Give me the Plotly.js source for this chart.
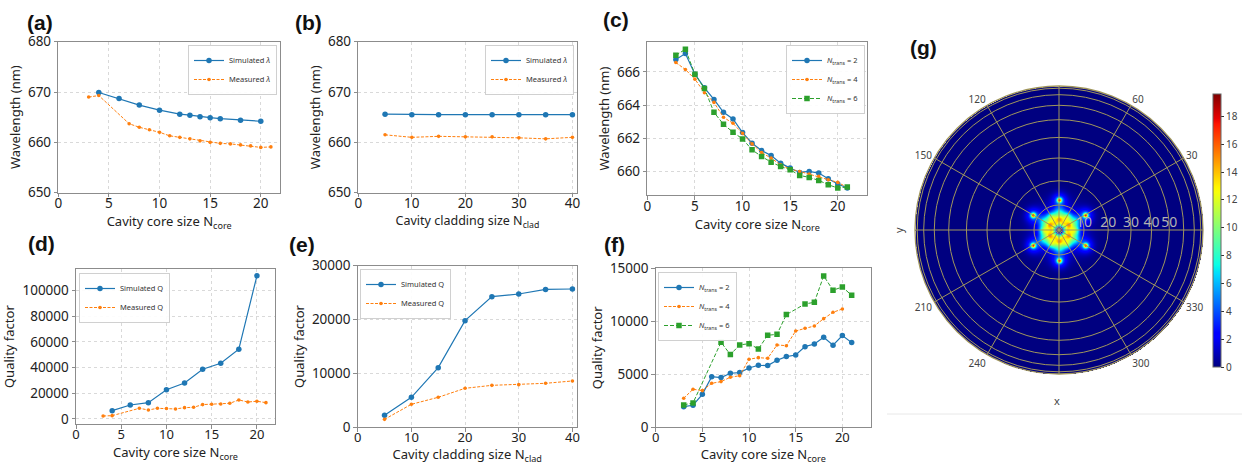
<!DOCTYPE html>
<html>
<head>
<meta charset="utf-8">
<script src="https://cdn.plot.ly/plotly-3.0.1.min.js"></script>
<style>
  html, body { margin: 0; padding: 0; background: #fff; }
  #fig { width: 1242px; height: 465px; }
</style>
</head>
<body>
<div id="fig"></div>
<script>
// ---------- (a) resonance wavelength vs. core size ----------
const coreSimX  = [4, 6, 8, 10, 12, 13, 14, 15, 16, 18, 20];
const coreSimWl = [669.9, 668.7, 667.4, 666.4, 665.6, 665.4, 665.1, 664.9, 664.7, 664.4, 664.2];
const coreMeasX  = [3, 4, 7, 8, 9, 10, 11, 12, 13, 14, 15, 16, 17, 18, 19, 20, 21];
const coreMeasWl = [669.0, 669.3, 663.7, 663.0, 662.5, 662.0, 661.3, 661.0, 660.7, 660.3, 660.0, 659.8, 659.7, 659.5, 659.3, 659.0, 659.1];

// ---------- (b) resonance wavelength vs. cladding size ----------
const cladX      = [5, 10, 15, 20, 25, 30, 35, 40];
const cladSimWl  = [665.6, 665.5, 665.5, 665.5, 665.5, 665.5, 665.5, 665.5];
const cladMeasWl = [661.5, 661.0, 661.2, 661.1, 661.1, 660.9, 660.7, 661.0];

// ---------- (c) wavelength vs. core size for three transition lengths ----------
const transX   = [3, 4, 5, 6, 7, 8, 9, 10, 11, 12, 13, 14, 15, 16, 17, 18, 19, 20, 21];
const transWl2 = [666.74, 667.10, 665.86, 665.04, 664.34, 663.56, 663.16, 662.34, 661.70, 661.26, 660.96, 660.50, 660.20, 659.94, 660.00, 659.90, 659.56, 659.24, 659.00];
const transWl4 = [666.56, 666.14, 665.56, 664.74, 664.16, 663.26, 662.90, 662.30, 661.66, 661.14, 660.80, 660.40, 660.14, 660.00, 659.84, 659.70, 659.50, 659.34, 659.04];
const transWl6 = [667.00, 667.36, 665.86, 665.00, 663.56, 662.84, 662.36, 661.96, 661.30, 660.90, 660.56, 660.30, 660.10, 659.76, 659.64, 659.46, 659.20, 659.00, 659.06];

// ---------- (d) quality factor vs. core size ----------
const qCoreSimX = [4, 6, 8, 10, 12, 14, 16, 18, 20];
const qCoreSim  = [6500, 10900, 12700, 22800, 28000, 38700, 43300, 54300, 111300];
const qCoreMeasX = [3, 4, 7, 8, 9, 10, 11, 12, 13, 14, 15, 16, 17, 18, 19, 20, 21];
const qCoreMeas  = [2300, 2600, 8300, 7000, 8300, 8100, 7800, 8800, 9100, 11200, 11400, 11700, 12200, 14800, 13200, 13800, 12700];

// ---------- (e) quality factor vs. cladding size ----------
const qCladSim  = [2230, 5570, 11070, 19800, 24250, 24740, 25600, 25670];
const qCladMeas = [1480, 4270, 5570, 7240, 7790, 7920, 8170, 8600];

// ---------- (f) quality factor vs. core size for three transition lengths ----------
const qTrans2X = [3, 4, 5, 6, 7, 8, 9, 10, 11, 12, 13, 14, 15, 16, 17, 18, 19, 20, 21];
const qTrans2  = [1950, 2080, 3110, 4780, 4690, 5100, 5160, 5600, 5850, 5820, 6320, 6670, 6820, 7610, 7860, 8490, 7740, 8650, 7990];
const qTrans4X = [3, 4, 5, 6, 7, 8, 9, 10, 11, 12, 13, 14, 15, 16, 17, 18, 19, 20];
const qTrans4  = [2740, 3590, 3460, 4150, 4310, 4720, 4870, 6420, 6570, 6510, 7770, 7700, 9090, 9340, 9560, 10250, 10850, 11160];
const qTrans6X = [3, 4, 7, 8, 9, 10, 11, 12, 13, 14, 16, 17, 18, 19, 20, 21];
const qTrans6  = [2110, 2300, 8020, 6860, 7770, 7890, 7390, 8680, 8770, 10630, 11640, 11790, 14280, 12930, 13240, 12450];

// ---------- (g) far-field intensity: six-fold spot groups ----------
// radius in units of sin(polar angle); each group is a set of six spots rotated by the offset
const spotGroupRadius = [0.0, 0.0, 0.050, 0.075, 0.100, 0.120, 0.210, 0.210];
const spotGroupOffset = [0, 0, 0, 30, 0, 30, 30, 30];
const spotGroupPeak   = [6.0, -8.0, 6.0, 7.0, 8.0, 5.0, 13.0, 4.0];
const spotGroupWidth  = [0.100, 0.022, 0.017, 0.017, 0.025, 0.025, 0.011, 0.035];
const intensityMax = 19.6;
const polarAngleTicks = [10, 20, 30, 40, 50, 60, 70, 80];
const polarAngleText  = ['10', '20', '30', '40', '50', '', '', ''];
const azimuthTicks = [0, 30, 60, 90, 120, 150, 180, 210, 240, 270, 300, 330];
const azimuthText  = ['', '30', '60', '', '120', '150', '', '210', '240', '', '300', '330'];

// ---------- figure geometry (pixels -> paper) ----------
const W = 1242, H = 465;
const px = v => v / W;
const py = v => 1 - v / H;

const BLUE = '#1f77b4', ORANGE = '#ff7f0e', GREEN = '#2ca02c';
const FONT = 'Noto Sans, Open Sans, DejaVu Sans, sans-serif';

function simTrace(x, y, n, name, legend) {
  return { type: 'scatter', mode: 'lines+markers', x, y, xaxis: 'x' + n, yaxis: 'y' + n,
    name, legend, line: { color: BLUE, width: 1.2 }, marker: { color: BLUE, size: 5.5 } };
}
function measTrace(x, y, n, name, legend) {
  return { type: 'scatter', mode: 'lines+markers', x, y, xaxis: 'x' + n, yaxis: 'y' + n,
    name, legend, line: { color: ORANGE, width: 1, dash: '3px,1.5px' }, marker: { color: ORANGE, size: 3.6 } };
}
function squareTrace(x, y, n, name, legend) {
  return { type: 'scatter', mode: 'lines+markers', x, y, xaxis: 'x' + n, yaxis: 'y' + n,
    name, legend, line: { color: GREEN, width: 1, dash: '4px,2px' }, marker: { color: GREEN, size: 5.5, symbol: 'square' } };
}

const lamName = s => s + ' <i>λ</i>';
const transName = k => '<i>N</i><sub>trans</sub> = ' + k;

const traces = [
  simTrace(coreSimX, coreSimWl, '', lamName('Simulated'), 'legend'),
  measTrace(coreMeasX, coreMeasWl, '', lamName('Measured'), 'legend'),

  simTrace(cladX, cladSimWl, 2, lamName('Simulated'), 'legend2'),
  measTrace(cladX, cladMeasWl, 2, lamName('Measured'), 'legend2'),

  simTrace(transX, transWl2, 3, transName(2), 'legend3'),
  measTrace(transX, transWl4, 3, transName(4), 'legend3'),
  squareTrace(transX, transWl6, 3, transName(6), 'legend3'),

  simTrace(qCoreSimX, qCoreSim, 4, 'Simulated Q', 'legend4'),
  measTrace(qCoreMeasX, qCoreMeas, 4, 'Measured Q', 'legend4'),

  simTrace(cladX, qCladSim, 5, 'Simulated Q', 'legend5'),
  measTrace(cladX, qCladMeas, 5, 'Measured Q', 'legend5'),

  simTrace(qTrans2X, qTrans2, 6, transName(2), 'legend6'),
  measTrace(qTrans4X, qTrans4, 6, transName(4), 'legend6'),
  squareTrace(qTrans6X, qTrans6, 6, transName(6), 'legend6')
];

// far-field map on a square grid, clipped to the unit circle
const GRID_N = 289;
const gridVals = Array.from({ length: GRID_N }, (_, i) => -1 + 2 * i / (GRID_N - 1));
const spots = [];
spotGroupRadius.forEach((r, g) => {
  const count = r === 0 ? 1 : 6;
  for (let k = 0; k < count; k++) {
    const a = (spotGroupOffset[g] + 60 * k) * Math.PI / 180;
    spots.push({ x: r * Math.cos(a), y: r * Math.sin(a), p: spotGroupPeak[g], s: spotGroupWidth[g] });
  }
});
const field = gridVals.map(yv => gridVals.map(xv => {
  if (xv * xv + yv * yv > 1) return null;
  let v = 0;
  for (const sp of spots) {
    const d2 = (xv - sp.x) ** 2 + (yv - sp.y) ** 2;
    v += sp.p * Math.exp(-d2 / (2 * sp.s * sp.s));
  }
  return Math.min(Math.max(v, 0), intensityMax);
}));

const JET = [
  [0.0, 'rgb(0,0,128)'], [0.11, 'rgb(0,0,255)'], [0.125, 'rgb(0,0,255)'],
  [0.34, 'rgb(0,219,255)'], [0.35, 'rgb(0,229,247)'], [0.375, 'rgb(10,255,230)'],
  [0.64, 'rgb(247,255,8)'], [0.66, 'rgb(255,245,0)'], [0.89, 'rgb(255,20,0)'],
  [0.91, 'rgb(232,0,0)'], [1.0, 'rgb(128,0,0)']
];

traces.push({
  type: 'heatmap', x: gridVals, y: gridVals, z: field, xaxis: 'x7', yaxis: 'y7',
  colorscale: JET, zmin: 0, zmax: intensityMax, zsmooth: false, hoverinfo: 'skip', showlegend: false,
  colorbar: {
    x: px(1213), xanchor: 'left', xpad: 0, ypad: 0,
    y: py(230.5), yanchor: 'middle', len: 273, lenmode: 'pixels',
    thickness: 8, thicknessmode: 'pixels',
    outlinewidth: 1, outlinecolor: '#666',
    tick0: 0, dtick: 2, ticks: 'outside', ticklen: 3, tickcolor: '#333',
    tickfont: { size: 10, color: '#444', family: FONT }
  }
});

// the polar frame (rings and spokes) drawn over the map
traces.push({ type: 'scatterpolar', r: [], theta: [], subplot: 'polar', showlegend: false, hoverinfo: 'skip' });

// ---------- axes ----------
function axis(domain, range, dtick, title, extra) {
  return Object.assign({
    domain, range, dtick, autorange: false,
    showline: true, mirror: true, linecolor: '#8c8c8c', linewidth: 1,
    ticks: 'outside', ticklen: 3.5, tickcolor: '#8c8c8c', tickwidth: 1,
    showgrid: true, gridcolor: '#d9d9d9', griddash: 'dot', gridwidth: 1,
    zeroline: false, tickformat: 'd',
    tickfont: { size: 13.5, color: '#222', family: FONT },
    title: { text: title, font: { size: 13, color: '#222', family: FONT }, standoff: 4 }
  }, extra || {});
}
const xCore = 'Cavity core size N<sub>core</sub>';
const xClad = 'Cavity cladding size N<sub>clad</sub>';
const yWl = 'Wavelength (nm)';
const yQ = 'Quality factor';
const xTitle = (text, size) => ({ text, font: { size, color: '#222', family: FONT }, standoff: 3 });

function legendBox(x, y, xanchor) {
  return {
    x, y, xanchor, yanchor: 'top', bgcolor: 'rgba(255,255,255,0.9)',
    bordercolor: '#d0d0d0', borderwidth: 1, itemwidth: 30, tracegroupgap: 0,
    font: { size: 7.5, color: '#333', family: FONT }
  };
}

const GRIDC = 'rgb(160,150,92)';
const ringVals = polarAngleTicks.map(t => Math.sin(t * Math.PI / 180));

function label(text, x, y) {
  return { text: '<b>' + text + '</b>', x: px(x), y: py(y), xref: 'paper', yref: 'paper',
    xanchor: 'center', yanchor: 'middle', showarrow: false,
    font: { size: 21, color: '#111', family: 'Liberation Sans, Arial, sans-serif' } };
}

const xExtra = (anchor, title, size, tickSize) => ({
  anchor, ticklabelstandoff: -5, title: xTitle(title, size),
  tickfont: { size: tickSize || 13.5, color: '#222', family: FONT }
});

const layout = {
  width: W, height: H, margin: { l: 0, r: 0, t: 0, b: 0 },
  paper_bgcolor: '#fff', plot_bgcolor: '#fff',
  font: { family: FONT, color: '#222' },
  showlegend: true,

  xaxis:  axis([px(58.3), px(280)], [0, 21.9], 5, xCore, xExtra('y', xCore, 13)),
  yaxis:  axis([py(192.7), py(41.7)], [650, 680], 10, yWl, { anchor: 'x' }),
  xaxis2: axis([px(358.3), px(576.7)], [0, 40.8], 10, xClad, xExtra('y2', xClad, 12.5)),
  yaxis2: axis([py(192.7), py(41.7)], [650, 680], 10, yWl, { anchor: 'x2' }),
  xaxis3: axis([px(647.3), px(867.3)], [0, 23.1], 5, xCore, xExtra('y3', xCore, 13)),
  yaxis3: axis([py(195), py(42.3)], [658.58, 667.78], 2, yWl, { anchor: 'x3', tick0: 660 }),
  xaxis4: axis([px(76), px(275)], [0, 22.0], 5, xCore, xExtra('y4', xCore, 13, 13)),
  yaxis4: axis([py(424), py(269.3)], [-3900, 116400], 20000, yQ, { anchor: 'x4', tick0: 0 }),
  xaxis5: axis([px(357.7), px(576.7)], [0, 40.8], 10, xClad, xExtra('y5', xClad, 13, 13)),
  yaxis5: axis([py(427.3), py(265.7)], [0, 30000], 10000, yQ, { anchor: 'x5' }),
  xaxis6: axis([px(655.7), px(871)], [0, 23.07], 5, xCore, xExtra('y6', xCore, 13, 13)),
  yaxis6: axis([py(427.3), py(268.3)], [0, 15000], 5000, yQ, { anchor: 'x6' }),

  xaxis7: { domain: [px(915), px(1203)], range: [-1, 1], visible: false, anchor: 'y7', fixedrange: true },
  yaxis7: { domain: [py(374), py(86)], range: [-1, 1], visible: false, anchor: 'x7', fixedrange: true },

  polar: {
    domain: { x: [px(915), px(1203)], y: [py(374), py(86)] },
    bgcolor: 'rgba(0,0,0,0)',
    angularaxis: {
      rotation: 0, direction: 'counterclockwise', tickmode: 'array',
      tickvals: azimuthTicks, ticktext: azimuthText, ticks: '',
      showgrid: true, gridcolor: GRIDC, gridwidth: 1,
      showline: true, linecolor: GRIDC, linewidth: 1.3,
      tickfont: { size: 10, color: '#444', family: FONT }
    },
    radialaxis: {
      range: [0, 1], tickmode: 'array', tickvals: ringVals, ticktext: polarAngleText,
      angle: 0, tickangle: 0, side: 'counterclockwise', showline: false, ticks: '',
      showgrid: true, gridcolor: GRIDC, gridwidth: 1,
      tickfont: { size: 14, color: 'rgb(178,178,178)', family: FONT }
    }
  },

  legend:  legendBox(px(277), py(45), 'right'),
  legend2: legendBox(px(574), py(45), 'right'),
  legend3: legendBox(px(865), py(45), 'right'),
  legend4: legendBox(px(79), py(273), 'left'),
  legend5: legendBox(px(360), py(269), 'left'),
  legend6: legendBox(px(658), py(272), 'left'),

  annotations: [
    label('(a)', 40, 22), label('(b)', 308, 22), label('(c)', 616, 20),
    label('(d)', 41, 243), label('(e)', 302, 244), label('(f)', 614, 244),
    label('(g)', 923, 47),
    { text: 'x', x: px(1057), y: py(400), xref: 'paper', yref: 'paper', showarrow: false,
      xanchor: 'center', yanchor: 'middle', font: { size: 11, color: '#444', family: FONT } },
    { text: 'y', x: px(898), y: py(230), xref: 'paper', yref: 'paper', showarrow: false, textangle: -90,
      xanchor: 'center', yanchor: 'middle', font: { size: 11, color: '#444', family: FONT } }
  ],
  shapes: [
    { type: 'line', xref: 'paper', yref: 'paper', x0: px(887), x1: 1, y0: py(414), y1: py(414),
      line: { color: '#e8e8e8', width: 1 } }
  ]
};

Plotly.newPlot('fig', traces, layout, { displayModeBar: false, staticPlot: true });
</script>
</body>
</html>
